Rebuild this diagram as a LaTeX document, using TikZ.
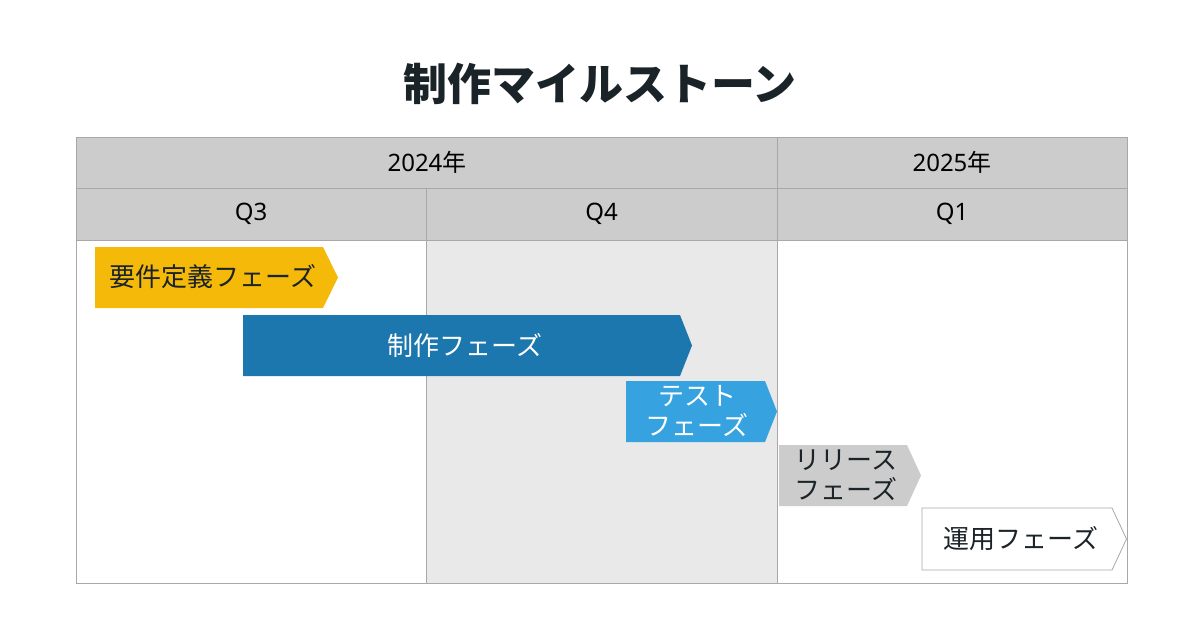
\documentclass[tikz,border=0pt]{standalone}
\usepackage{fontspec}
\setmainfont{Noto Sans CJK JP}
\newfontfamily\latn{Noto Sans}
\definecolor{hdr}{HTML}{CCCCCC}
\definecolor{grid}{HTML}{A8A8A8}
\definecolor{cshade}{HTML}{E9E9E9}
\definecolor{txt}{HTML}{1A2328}
\definecolor{cyel}{HTML}{F5B90A}
\definecolor{cblue}{HTML}{1B77AE}
\definecolor{clblue}{HTML}{36A3E0}
\definecolor{cgray}{HTML}{CCCCCC}
\tikzset{
  hdrtext/.style={font=\fontsize{24}{28}\selectfont, text=black, inner sep=0pt},
  bartext/.style={font=\fontsize{26}{30}\selectfont, text=txt, inner sep=0pt, align=center},
}
\begin{document}
\begin{tikzpicture}[x=1pt,y=-1pt]
\useasboundingbox (0,0) rectangle (1200,630);
\fill[white] (0,0) rectangle (1200,630);
% title
\node[font=\fontsize{44}{48}\selectfont\bfseries, text=txt, inner sep=0pt] (title) at (600,84) {制作マイルストーン};
% header
\fill[hdr] (76,137) rectangle (1127,240);
\fill[cshade] (426,240) rectangle (777,583);
\draw[grid, line width=1pt] (76,137) rectangle (1127,583);
\draw[grid, line width=1pt] (76,188) -- (1127,188);
\draw[grid, line width=1pt] (76,240) -- (1127,240);
\draw[grid, line width=1pt] (777,137) -- (777,583);
\draw[grid, line width=1pt] (426,188) -- (426,583);
\node[hdrtext] (y24) at (427,162) {{\latn 2024}年};
\node[hdrtext] (y25) at (952,162) {{\latn 2025}年};
\node[hdrtext] (q3) at (251,214) {\latn Q3};
\node[hdrtext] (q4) at (601.5,214) {\latn Q4};
\node[hdrtext] (q1) at (952,214) {\latn Q1};
% bars
\fill[cyel] (95,247) -- (323,247) -- (338,277.5) -- (323,308) -- (95,308) -- cycle;
\node[bartext] (b1) at (213,277) {要件定義フェーズ};
\fill[cblue] (243,315) -- (680,315) -- (692,345.5) -- (680,376) -- (243,376) -- cycle;
\node[bartext, text=white] (b2) at (465,345) {制作フェーズ};
\fill[clblue] (626,381) -- (765,381) -- (777,411.5) -- (765,442) -- (626,442) -- cycle;
\node[bartext, text=white] (b3) at (697,411) {テスト\\フェーズ};
\fill[cgray] (779,445) -- (907,445) -- (921,475.5) -- (907,506) -- (779,506) -- cycle;
\node[bartext] (b4) at (846,475) {リリース\\フェーズ};
\filldraw[fill=white, draw=grid, line width=0.8pt] (922,508) -- (1112,508) -- (1126.5,539) -- (1112,570) -- (922,570) -- cycle;
\node[bartext] (b5) at (1021,539) {運用フェーズ};
\end{tikzpicture}
\end{document}
